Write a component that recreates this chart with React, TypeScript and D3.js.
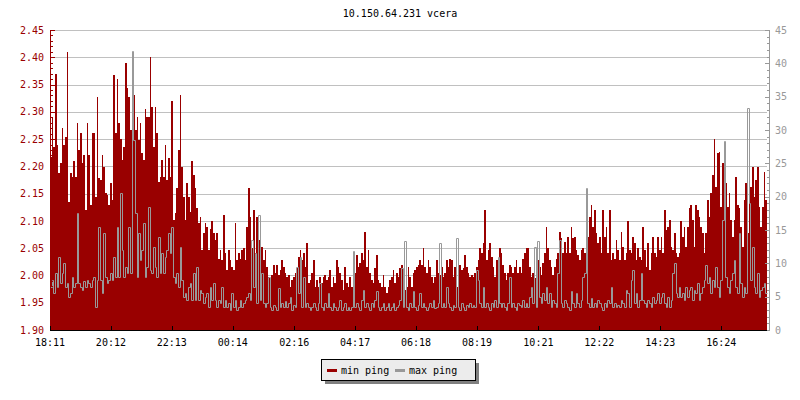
import React, { useEffect, useRef } from 'react';
import * as d3 from 'd3';

const title = '10.150.64.231 vcera';
const timeLabels = ['18:11', '20:12', '22:13', '00:14', '02:16', '04:17', '06:18', '08:19', '10:21', '12:22', '14:23', '16:24'];
const leftTicks = [1.9, 1.95, 2.0, 2.05, 2.1, 2.15, 2.2, 2.25, 2.3, 2.35, 2.4, 2.45];
const rightTicks = [0, 5, 10, 15, 20, 25, 30, 35, 40, 45];
const seriesNames = ['min ping', 'max ping'];
const spanMinutes = 1424;

// min ping (ms), left axis
const minPing = [
  2.218, 2.290, 2.236, 2.370, 2.239, 2.187, 2.206, 2.270, 2.239, 2.254,
  2.410, 2.135, 2.187, 2.181, 2.209, 2.181, 2.279, 2.230, 2.261, 2.206,
  2.221, 2.120, 2.279, 2.221, 2.129, 2.261, 2.261, 2.144, 2.328, 2.178,
  2.175, 2.221, 2.199, 2.151, 2.147, 2.129, 2.169, 2.138, 2.367, 2.261,
  2.361, 2.279, 2.251, 2.212, 2.236, 2.389, 2.343, 2.328, 2.267, 2.340,
  2.331, 2.267, 2.291, 2.248, 2.279, 2.224, 2.212, 2.306, 2.291, 2.291,
  2.401, 2.309, 2.236, 2.309, 2.261, 2.172, 2.181, 2.212, 2.181, 2.239,
  2.175, 2.215, 2.181, 2.319, 2.102, 2.114, 2.160, 2.230, 2.331, 2.199,
  2.144, 2.102, 2.169, 2.144, 2.117, 2.209, 2.184, 2.160, 2.123, 2.096,
  2.108, 2.047, 2.077, 2.096, 2.089, 2.047, 2.086, 2.099, 2.077, 2.065,
  2.077, 2.031, 2.047, 2.028, 2.111, 2.041, 2.010, 2.047, 2.028, 2.016,
  2.010, 2.096, 2.028, 2.041, 2.031, 2.047, 2.050,
  2.028, 2.089, 2.160, 2.108, 2.050, 2.120, 2.041, 2.108, 2.065, 2.071,
  2.053, 2.028, 2.047, 2.016, 1.998, 1.986, 2.001, 2.019, 2.004, 2.019,
  2.001, 2.010, 2.028, 2.016, 2.004, 1.998, 2.001, 1.979, 1.992, 1.998,
  2.004, 2.013, 2.034, 2.047, 2.028, 2.041, 2.016, 2.059, 1.986, 1.992,
  2.004, 2.028, 1.979, 1.992, 1.979, 1.998, 1.986, 1.998, 2.001, 1.992,
  1.998, 2.010, 1.979, 1.998, 1.986, 2.028, 2.016, 2.004, 1.992, 1.973,
  2.016, 1.986, 1.979, 1.998, 1.979, 1.973, 2.004, 2.038, 2.016, 2.022,
  2.041, 2.028, 2.080, 2.016, 2.047, 2.004, 1.992, 1.986, 2.013, 2.038,
  1.992, 1.986, 1.979, 2.001, 1.979, 1.967, 1.979, 1.992, 1.998, 2.010,
  1.986, 2.004, 1.998, 2.013, 2.019, 1.992, 1.973, 1.979, 2.016, 1.998,
  1.979, 2.004, 2.010, 2.016, 2.019, 2.028, 2.019, 2.050, 2.016, 2.004,
  2.028, 2.016, 1.998, 1.986, 1.998, 2.028, 2.004,
  2.001, 2.016, 1.998, 2.004, 2.028, 2.016, 2.031, 2.028, 1.998, 2.016,
  1.979, 2.004, 2.019, 2.010, 2.013, 2.038, 2.016, 2.004, 1.998, 2.001,
  1.998, 2.004, 2.016, 2.028, 2.050, 2.041, 2.059, 2.120, 2.028, 2.047,
  2.059, 2.034, 2.016, 1.998, 2.028, 2.016, 2.050, 2.041, 2.019, 2.004,
  1.992, 2.004, 2.019, 2.016, 2.004, 2.016, 2.028, 2.004, 2.016, 2.004,
  2.031, 2.041, 2.050, 2.050, 2.016, 1.998, 2.004, 1.995, 2.019, 2.028,
  2.016, 2.001, 2.022, 2.041, 2.089, 2.050, 2.028, 2.016, 2.001, 2.016,
  2.031, 2.041, 2.080, 2.068, 2.041, 2.062, 2.041, 2.071, 2.041, 2.089,
  2.068, 2.071, 2.047, 2.038, 2.028, 2.047, 2.050, 2.041, 2.108, 2.071,
  2.108, 2.129, 2.089, 2.120, 2.077, 2.059, 2.071, 2.041, 2.120, 2.071,
  2.089, 2.041, 2.120, 2.028, 2.041, 2.031, 2.065, 2.047, 2.028, 2.080,
  2.053, 2.028, 2.041, 2.099, 2.047, 2.041, 2.071, 2.059, 2.028, 2.050,
  2.034, 2.028, 2.089, 2.047, 2.016, 2.059, 2.010, 2.041, 2.071, 2.041,
  2.034, 2.071, 2.047, 2.071, 2.041, 2.120, 2.083, 2.089, 2.102, 2.053,
  2.047, 2.077, 2.041, 2.034, 2.041, 2.099, 2.071, 2.089, 2.053, 2.089,
  2.123, 2.129, 2.102, 2.053, 2.129, 2.120, 2.108, 2.089, 2.077, 2.041,
  2.077, 2.138, 2.108, 2.151, 2.184, 2.251, 2.163, 2.224, 2.227, 2.126,
  2.206, 2.230, 2.169, 2.126, 2.151, 2.102, 2.071, 2.102, 2.181, 2.129,
  2.123, 2.089, 2.053, 2.138, 2.169, 2.077, 2.199, 2.163, 2.199, 2.144,
  2.175, 2.199, 2.126, 2.089, 2.126, 2.190, 2.138,
];

// max ping (ms), right axis
const maxPing = [
  6.5, 7.5, 5.5, 8.5, 6.5, 11, 7, 8.5, 10, 6.5,
  7, 5, 5.5, 8, 6.5, 7, 17.5, 7, 6.5, 6,
  7.3, 6.5, 7.5, 7, 6.5, 7.5, 8, 3.5, 7.5, 15.5,
  7.5, 5.5, 14.5, 8, 7, 7.5, 8.5, 7.5, 11, 8,
  15.5, 8, 20.5, 12, 8, 9.5, 8.5, 15.5, 8.5, 41.8,
  28.5, 17.5, 8, 14.5, 10.5, 12, 16, 8, 9.5, 18.5,
  9, 8.5, 12.5, 9.5, 8, 14, 8.5, 11.5, 8.5, 11,
  12, 14.5, 11.5, 15.5, 8, 7, 8.5, 6.5, 12.5, 7.5,
  5, 5.5, 4.5, 6.5, 7, 4.5, 8.5, 4.5, 9.5, 4.5,
  6, 5.5, 4, 5, 5.5, 3.5, 6.5, 4.5, 7, 4.5,
  3.5, 4.5, 4, 6.5, 3.5, 4.5, 3.5, 4, 3, 5.5,
  3.5, 4.5, 3, 3.5, 4.5, 3.5, 4,
  4.5, 5, 5.5, 4.5, 13.5, 6.5, 11.5, 4, 17.3, 4.5,
  8.5, 4, 3.5, 4, 8, 3.5, 3, 3.8, 3.5, 3,
  6.3, 3.5, 4, 3.5, 4.3, 3.5, 4, 5, 3, 3.8,
  3.5, 9.5, 5.5, 11, 3.5, 8, 3.5, 4, 3.5, 3,
  3.5, 4, 3.5, 3, 4, 7, 3.5, 3, 4, 3.5,
  5.5, 3.5, 3, 4, 3.5, 3, 3.5, 4.5, 3, 3.5,
  4, 3, 3.5, 3, 3.5, 11.8, 3.5, 4, 3.5, 3,
  4.5, 6, 3.5, 4, 3.5, 3, 4, 3.5, 4.5, 5.8,
  3.5, 3, 3.5, 4, 3, 3.5, 4, 3, 3.5, 4,
  3, 3.5, 3.8, 4.5, 9.3, 3.5, 13.3, 3.5, 3, 4,
  3.5, 5.8, 3.5, 3, 3.8, 5.5, 3.5, 4, 3.5, 3,
  3.5, 4, 3.5, 4.5, 3.3, 3.5, 4,
  13, 3.5, 4, 3.5, 6.5, 4, 3.5, 3, 3.8, 3.5,
  13.8, 3.5, 3, 4, 3.5, 3, 3.8, 3.5, 4, 3.5,
  3.8, 3.5, 9, 7.5, 4, 3.5, 6.5, 3.5, 4, 3.5,
  3, 4, 3.5, 4.5, 3.5, 11, 4, 3.5, 4, 3.5,
  3, 4, 8, 3.5, 4, 3.5, 3, 4, 3.8, 3.5,
  4.5, 3.5, 4, 3.5, 5, 6.5, 4, 12.5, 3.5, 13.3,
  5, 4, 5.5, 4.5, 6.5, 4, 5.5, 3.5, 4.5, 4,
  3.5, 8.5, 13.5, 4, 3.5, 4.5, 4, 3.5, 3, 5.8,
  4, 3.5, 5.5, 4, 3.5, 4.5, 8, 8.5, 21.3, 4,
  3.5, 4.8, 3.5, 4, 3.5, 4.5, 4, 3.5, 3, 4,
  3.5, 4.5, 4, 6.5, 3.5, 4, 3.5, 3.8, 3.5, 4.5,
  4, 3.5, 6, 5.5, 3.5, 7.5, 9, 4, 5.5, 3.5,
  4.5, 8.5, 4.5, 4, 3.5, 4.5, 4, 3.5, 5, 4,
  4.5, 5.5, 4, 5, 5.5, 4, 3.5, 5, 3.5, 4.5,
  8.5, 10, 5.5, 5, 6.5, 5, 5.5, 4.5, 6.5, 5,
  6, 6.5, 4.5, 6, 5.5, 7, 4.5, 5.5, 6.5, 7.5,
  9.8, 7, 8, 5.5, 7.5, 6.5, 9.5, 6.5, 5, 7.5,
  16.5, 28.3, 8, 6.5, 5.5, 7.5, 8.5, 10.5, 6.5, 5.5,
  14.5, 7, 5, 6.5, 5.5, 33.3, 19, 7.5, 12.5, 6.5,
  5.5, 8.5, 5, 6, 6.5, 7, 5.5,
];

const toMinutes = (s: string) => {
  const [h, m] = s.split(':').map(Number);
  return (h * 60 + m - (18 * 60 + 11) + 1440) % 1440;
};

export default function App() {
  const svgRef = useRef<SVGSVGElement>(null);

  useEffect(() => {
    if (!svgRef.current) return;
    const svg = d3.select(svgRef.current);
    svg.selectAll('*').remove();

    const left = 50, right = 767, top = 30, bottom = 330;
    const font = "'DejaVu Sans Mono', monospace";
    const red = '#990000';
    const gray = '#999999';

    const x = d3.scaleLinear().domain([0, spanMinutes]).range([left, right]);
    const yL = d3.scaleLinear().domain([1.9, 2.45]).range([bottom, top]);
    const yR = d3.scaleLinear().domain([0, 45]).range([bottom, top]);

    const dt = spanMinutes / minPing.length;
    const minData = minPing.map((v, i) => ({ t: i * dt, v }));
    minData.push({ t: spanMinutes, v: minPing[minPing.length - 1] });
    const maxData = maxPing.map((v, i) => ({ t: i * dt, v }));
    maxData.push({ t: spanMinutes, v: maxPing[maxPing.length - 1] });

    svg.append('rect').attr('width', 800).attr('height', 400).attr('fill', '#fff');

    // title
    svg.append('text')
      .attr('x', 400).attr('y', 17)
      .attr('text-anchor', 'middle')
      .attr('font-family', font).attr('font-size', 10)
      .attr('fill', '#000')
      .text(title);

    // grid
    svg.append('g').selectAll('line')
      .data(leftTicks.slice(1))
      .enter().append('line')
      .attr('x1', left).attr('x2', right)
      .attr('y1', d => Math.round(yL(d)) + 0.5).attr('y2', d => Math.round(yL(d)) + 0.5)
      .attr('stroke', '#c0c0c0').attr('stroke-width', 1)
      .attr('shape-rendering', 'crispEdges');

    // min ping area (pixel-snapped steps)
    const area = d3.area<{ t: number; v: number }>()
      .x(d => Math.round(x(d.t)))
      .y0(bottom)
      .y1(d => Math.round(yL(d.v)))
      .curve(d3.curveStepAfter);
    svg.append('path').datum(minData)
      .attr('d', area)
      .attr('fill', red);

    // max ping line
    const line = d3.line<{ t: number; v: number }>()
      .x(d => Math.round(x(d.t)) + 0.5)
      .y(d => Math.round(yR(d.v)) + 0.5)
      .curve(d3.curveStepAfter);
    svg.append('path').datum(maxData)
      .attr('d', line)
      .attr('fill', 'none')
      .attr('stroke', gray)
      .attr('stroke-width', 1);

    // left axis
    const la = svg.append('g');
    la.append('line')
      .attr('x1', left + 0.5).attr('x2', left + 0.5)
      .attr('y1', top).attr('y2', bottom)
      .attr('stroke', red).attr('shape-rendering', 'crispEdges');
    const minorL = d3.range(0, 56).map(i => 1.9 + i * 0.01);
    la.selectAll('.mt').data(minorL).enter().append('line')
      .attr('x1', left).attr('x2', (d, i) => (i % 5 === 0 ? left + 5 : left + 3))
      .attr('y1', d => Math.round(yL(d)) + 0.5).attr('y2', d => Math.round(yL(d)) + 0.5)
      .attr('stroke', red).attr('shape-rendering', 'crispEdges');
    la.selectAll('text').data(leftTicks).enter().append('text')
      .attr('x', 44).attr('y', d => yL(d) + 3.6)
      .attr('text-anchor', 'end')
      .attr('font-family', font).attr('font-size', 10)
      .attr('fill', red)
      .text(d => d.toFixed(2));

    // right axis
    const ra = svg.append('g');
    const rx = 769.5;
    ra.append('line')
      .attr('x1', rx).attr('x2', rx)
      .attr('y1', top).attr('y2', bottom)
      .attr('stroke', gray).attr('shape-rendering', 'crispEdges');
    const minorR = d3.range(0, 46);
    ra.selectAll('.mt').data(minorR).enter().append('line')
      .attr('x1', d => (d % 5 === 0 ? rx - 5 : rx - 3)).attr('x2', rx)
      .attr('y1', d => Math.round(yR(d)) + 0.5).attr('y2', d => Math.round(yR(d)) + 0.5)
      .attr('stroke', gray).attr('shape-rendering', 'crispEdges');
    ra.selectAll('text').data(rightTicks).enter().append('text')
      .attr('x', 775).attr('y', d => yR(d) + 3.6)
      .attr('text-anchor', 'start')
      .attr('font-family', font).attr('font-size', 10)
      .attr('fill', gray)
      .text(d => String(d));

    // bottom axis
    const ba = svg.append('g');
    ba.append('line')
      .attr('x1', left).attr('x2', right)
      .attr('y1', bottom + 0.5).attr('y2', bottom + 0.5)
      .attr('stroke', '#000').attr('shape-rendering', 'crispEdges');
    ba.selectAll('.tk').data(timeLabels).enter().append('line')
      .attr('x1', d => Math.round(x(toMinutes(d))) + 0.5).attr('x2', d => Math.round(x(toMinutes(d))) + 0.5)
      .attr('y1', bottom - 4).attr('y2', bottom)
      .attr('stroke', '#000').attr('shape-rendering', 'crispEdges');
    ba.selectAll('text').data(timeLabels).enter().append('text')
      .attr('x', d => x(toMinutes(d)))
      .attr('y', 346)
      .attr('text-anchor', 'middle')
      .attr('font-family', font).attr('font-size', 10)
      .attr('fill', '#000')
      .text(d => d);

    // legend
    const lg = svg.append('g');
    lg.append('rect').attr('x', 325).attr('y', 363).attr('width', 154).attr('height', 21).attr('fill', '#808080');
    lg.append('rect').attr('x', 321.5).attr('y', 359.5).attr('width', 154).attr('height', 21)
      .attr('fill', '#ececec').attr('stroke', '#000').attr('shape-rendering', 'crispEdges');
    const items = [
      { name: seriesNames[0], color: red, x: 327 },
      { name: seriesNames[1], color: gray, x: 395 },
    ];
    items.forEach(it => {
      lg.append('rect').attr('x', it.x).attr('y', 369).attr('width', 10).attr('height', 3).attr('fill', it.color);
      lg.append('text')
        .attr('x', it.x + 14).attr('y', 373.5)
        .attr('font-family', font).attr('font-size', 10)
        .attr('fill', '#000')
        .text(it.name);
    });
  }, []);

  return (
    <svg ref={svgRef} width={800} height={400} style={{ position: 'absolute', left: 0, top: 0, display: 'block' }} />
  );
}
